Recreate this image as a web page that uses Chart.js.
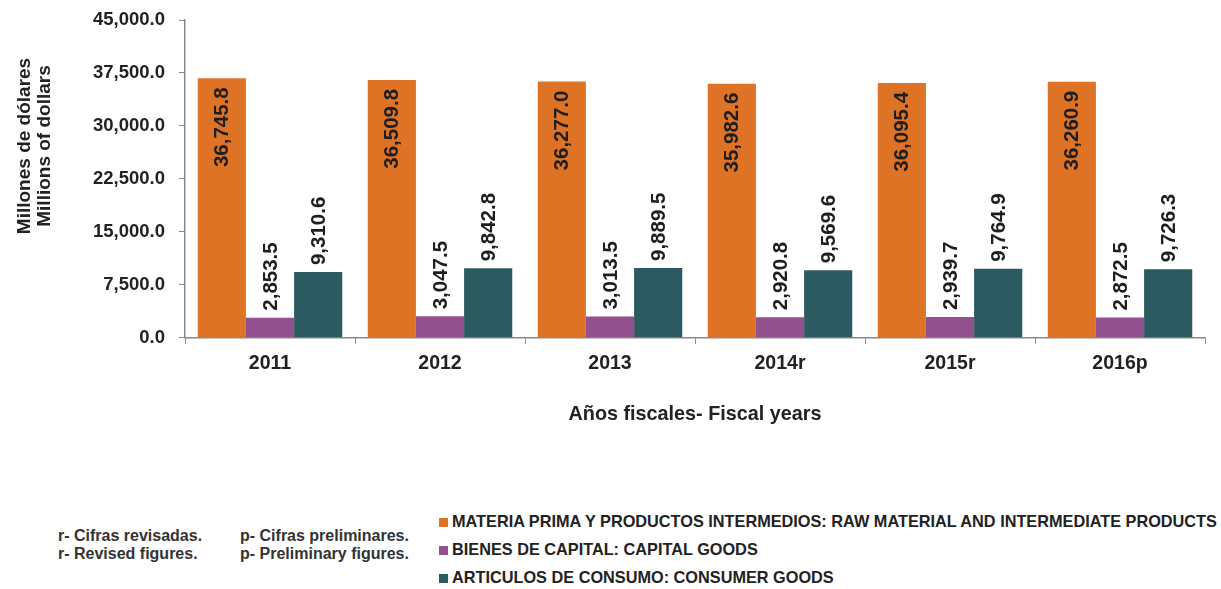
<!DOCTYPE html>
<html>
<head>
<meta charset="utf-8">
<script src="https://cdn.jsdelivr.net/npm/chart.js@4.4.1/dist/chart.umd.min.js"></script>
<style>
  body { margin: 0; background: #fff; width: 1221px; height: 589px; overflow: hidden; position: relative; font-family: "Liberation Sans", Arial, sans-serif; }
  #wrap { position: absolute; left: 0; top: 0; width: 1221px; height: 430px; }
  .note { position: absolute; font-weight: bold; font-size: 16px; color: #333; line-height: 18px; }
  #legend { position: absolute; left: 439px; top: 511px; font-family: "Liberation Sans Narrow", "Liberation Sans", Arial, sans-serif; font-weight: bold; font-size: 16.3px; color: #222; }
  #legend div { height: 28px; line-height: 20px; white-space: nowrap; }
  #legend span.sw { display: inline-block; width: 9px; height: 9px; margin-right: 4px; vertical-align: 0px; }
</style>
</head>
<body>
<div id="wrap"><canvas id="chart"></canvas></div>
<div class="note" style="left:58px; top:527px;">r- Cifras revisadas.<br>r- Revised figures.</div>
<div class="note" style="left:240px; top:527px;">p- Cifras preliminares.<br>p- Preliminary figures.</div>
<div id="legend"></div>
<script>
// --- DATA ---
const years = ['2011', '2012', '2013', '2014r', '2015r', '2016p'];
const rawMaterials = [36745.8, 36509.8, 36277.0, 35982.6, 36095.4, 36260.9];
const capitalGoods = [2853.5, 3047.5, 3013.5, 2920.8, 2939.7, 2872.5];
const consumerGoods = [9310.6, 9842.8, 9889.5, 9569.6, 9764.9, 9726.3];
const seriesNames = [
    'MATERIA PRIMA Y PRODUCTOS INTERMEDIOS: RAW MATERIAL AND INTERMEDIATE PRODUCTS',
    'BIENES DE CAPITAL: CAPITAL GOODS',
    'ARTICULOS DE CONSUMO: CONSUMER GOODS'
];
const yTitleLines = ['Millones de dólares', 'Millions of dollars'];
const seriesColors = ['#DE7326', '#93508F', '#2B5B60'];

const fmt = v => v.toLocaleString('en-US', { minimumFractionDigits: 1, maximumFractionDigits: 1 });
const FONT = '"Liberation Sans", Arial, sans-serif';

// --- LEGEND (html) ---
const legendEl = document.getElementById('legend');
seriesNames.forEach((name, i) => {
    const row = document.createElement('div');
    row.innerHTML = `<span class="sw" style="background:${seriesColors[i]}"></span>${name}`;
    legendEl.appendChild(row);
});

// --- VALUE LABELS (rotated) + y title drawn by hand so it sits where the original has it ---
const barLabels = {
    id: 'barLabels',
    afterDatasetsDraw(chart) {
        const ctx = chart.ctx;
        ctx.save();
        ctx.font = 'bold 20.5px ' + FONT;
        ctx.fillStyle = '#1e1e1e';
        ctx.textBaseline = 'middle';
        chart.data.datasets.forEach((ds, di) => {
            const meta = chart.getDatasetMeta(di);
            meta.data.forEach((bar, i) => {
                const txt = fmt(ds.data[i]);
                ctx.save();
                ctx.translate(bar.x, 0);
                ctx.rotate(-Math.PI / 2);
                if (di === 0) {
                    ctx.textAlign = 'right';
                    ctx.fillText(txt, -(bar.y + 9), 1);
                } else {
                    ctx.textAlign = 'left';
                    ctx.fillText(txt, -(bar.y - 7), 1);
                }
                ctx.restore();
            });
        });

        // y axis title, two lines
        ctx.font = 'bold 19px ' + FONT;
        ctx.fillStyle = '#222';
        ctx.textAlign = 'center';
        yTitleLines.forEach((line, k) => {
            ctx.save();
            ctx.translate(25 + k * 20, 146);
            ctx.rotate(-Math.PI / 2);
            ctx.fillText(line, 0, 0);
            ctx.restore();
        });
        ctx.restore();
    }
};

// small lineHeight so the tick padding does not push the plot top down
const tickFont = { family: FONT, size: 18.5, weight: 'bold', lineHeight: 0.6 };

new Chart(document.getElementById('chart'), {
    type: 'bar',
    data: {
        labels: years,
        datasets: [
            { label: seriesNames[0], data: rawMaterials, backgroundColor: seriesColors[0] },
            { label: seriesNames[1], data: capitalGoods, backgroundColor: seriesColors[1] },
            { label: seriesNames[2], data: consumerGoods, backgroundColor: seriesColors[2] }
        ]
    },
    options: {
        responsive: true,
        maintainAspectRatio: false,
        animation: false,
        layout: { padding: { top: 20, right: 16, left: 0, bottom: 0 } },
        datasets: { bar: { categoryPercentage: 0.85, barPercentage: 1.0 } },
        plugins: {
            legend: { display: false },
            tooltip: { enabled: false }
        },
        scales: {
            x: {
                grid: { display: true, drawOnChartArea: false, offset: true, color: '#888', tickLength: 6 },
                border: { color: '#888', width: 1.5 },
                ticks: { color: '#222', font: { family: FONT, size: 19.5, weight: 'bold' }, padding: 8 },
                title: {
                    display: true, text: 'Años fiscales- Fiscal years', color: '#222',
                    font: { family: FONT, size: 19.8, weight: 'bold' },
                    padding: { top: 19 }
                }
            },
            y: {
                min: 0, max: 45000,
                afterFit(scale) { scale.width = 185; },
                grid: { display: true, drawOnChartArea: false, color: '#888', tickLength: 6 },
                border: { color: '#888', width: 1.5 },
                ticks: { stepSize: 7500, color: '#222', font: tickFont, padding: 14, callback: v => fmt(v) }
            }
        }
    },
    plugins: [barLabels]
});
</script>
</body>
</html>
